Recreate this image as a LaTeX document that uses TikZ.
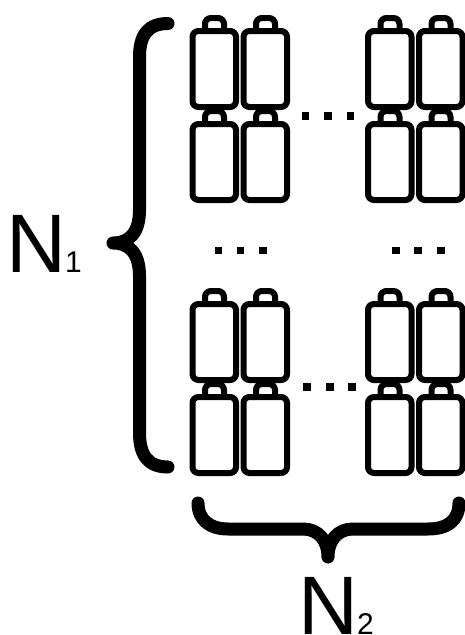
\documentclass[tikz,border=0pt]{standalone}
\usepackage{fontspec}
\setmainfont{Liberation Sans}
\tikzset{
  x=1pt,y=-1pt,
  battline/.style={draw=black,line width=6pt,rounded corners=6pt,fill=none},
  bracket/.style={draw=black,line width=13pt,line cap=round,line join=round},
  dotmark/.style={fill=black,draw=none,minimum size=7.5pt,inner sep=0pt,shape=rectangle},
  bigN/.style={font=\fontsize{83}{83}\selectfont,inner sep=0pt,anchor=base west},
  subN/.style={font=\fontsize{30}{30}\selectfont,inner sep=0pt,anchor=base west},
  pics/batt/.style={code={
    \draw[battline] (12.5,13) -- (12.5,0) -- (31.5,0) -- (31.5,13);
    \draw[battline] (0,13) rectangle (43.5,89);
  }}
}
\begin{document}
\begin{tikzpicture}
\useasboundingbox (0,0) rectangle (465,635);
\foreach \cx in {192.5,243.5,368,419}{
  \foreach \ry in {18,111,291,384}{
    \pic at (\cx,\ry) {batt};
  }
}
\foreach \d/\dx/\dy in {a/305.5/116,b/328/116,c/350.5/116,
                        d/307/387,e/330/387,f/352/387,
                        g/218.5/250.5,h/240.5/250.5,i/263/250.5,
                        j/396/250.5,k/418/250.5,l/441/250.5}{
  \node[dotmark] (\d) at (\dx,\dy) {};
}
\draw[bracket] (168,23.5) .. controls (148,23.5) and (139.5,35) .. (139.5,57)
  -- (139.5,210) .. controls (139.5,232) and (130,243) .. (113,243)
  .. controls (130,243) and (139.5,254) .. (139.5,276)
  -- (139.5,433) .. controls (139.5,455) and (148,467) .. (168,467);
\draw[bracket] (198,503) .. controls (198,520) and (210,529) .. (228,529)
  -- (303,529) .. controls (318,529) and (328,540) .. (328,557)
  .. controls (328,540) and (338,529) .. (353,529)
  -- (428,529) .. controls (448,529) and (459,520) .. (459,503);
\node[bigN] (n1) at (6,272) {N};
\node[subN] (s1) at (65,272) {1};
\node[bigN] (n2) at (298,634) {N};
\node[subN] (s2) at (357,634) {2};
\end{tikzpicture}
\end{document}
